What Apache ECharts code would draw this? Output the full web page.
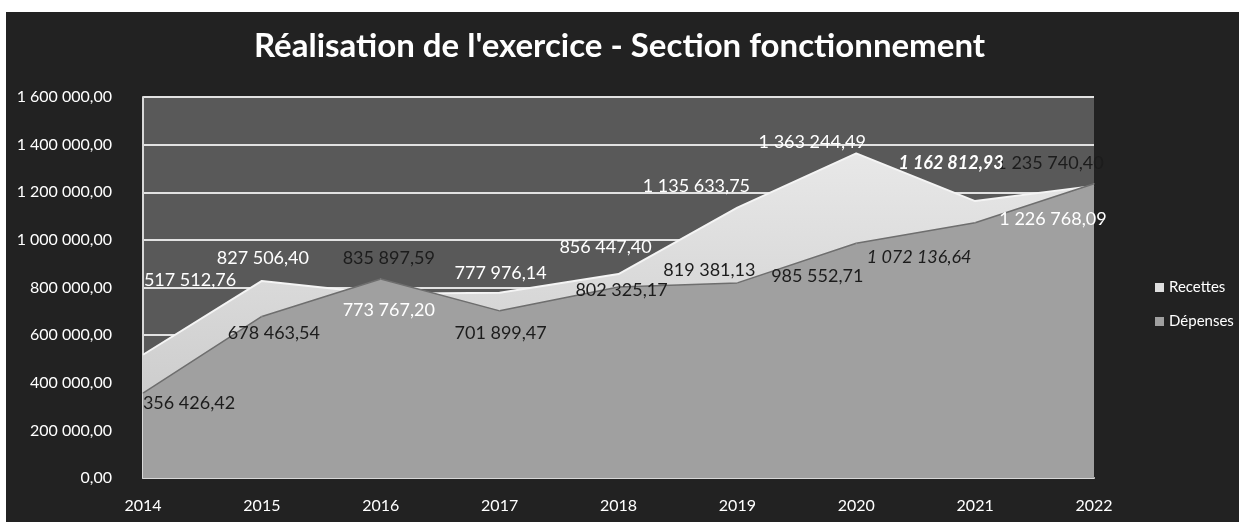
<!DOCTYPE html>
<html>
<head>
<meta charset="utf-8">
<script src="https://cdn.jsdelivr.net/npm/echarts@6/dist/echarts.min.js"></script>
<style>
  html, body { margin: 0; padding: 0; background: #ffffff; }
  #chart { width: 1239px; height: 522px; }
</style>
</head>
<body>
<div id="chart"></div>
<script>
// données
var annees = ['2014', '2015', '2016', '2017', '2018', '2019', '2020', '2021', '2022'];
var recettes = [517512.76, 827506.40, 773767.20, 777976.14, 856447.40, 1135633.75, 1363244.49, 1162812.93, 1226768.09];
var depenses = [356426.42, 678463.54, 835897.59, 701899.47, 802325.17, 819381.13, 985552.71, 1072136.64, 1235740.40];

// décalage des étiquettes (par rapport au point)
var decalRecettes = [[47, -75], [1, -23], [8, 16], [1, -20], [-13, -27], [-41, -21], [-44, -11], [-24, -38], [-41, 33]];
var decalDepenses = [[46, 10], [12, 17], [8, -21], [1, 22], [3, 3], [-28, -13], [-39, 33], [-56, 34], [-44, -21]];

function fmt(v) {
    var s = v.toFixed(2).split('.');
    return s[0].replace(/\B(?=(\d{3})+(?!\d))/g, ' ') + ',' + s[1];
}

function construire(valeurs, decal, couleur) {
    var res = [];
    for (var i = 0; i < valeurs.length; i++) {
        var lab = { offset: decal[i], color: couleur };
        if (annees[i] == '2021') {
            lab.fontStyle = 'italic';
        }
        res.push({ value: valeurs[i], label: lab });
    }
    return res;
}

var dataR = construire(recettes, decalRecettes, '#ffffff');
var dataD = construire(depenses, decalDepenses, '#1c1c1c');
dataR[7].label.fontWeight = 'bold';

var etiquette = {
    show: true,
    position: 'inside',
    fontSize: 18,
    fontFamily: 'Lato',
    formatter: function (p) { return fmt(p.value); }
};

var myChart = echarts.init(document.getElementById('chart'));

var option = {
    backgroundColor: '#ffffff',
    animation: false,
    textStyle: { fontFamily: 'Lato' },
    graphic: [
        { type: 'rect', z: -10, shape: { x: 6, y: 12, width: 1233, height: 510 }, style: { fill: '#222222' } }
    ],
    title: {
        text: "Réalisation de l'exercice - Section fonctionnement",
        left: 'center',
        top: 25,
        textStyle: { color: '#ffffff', fontSize: 33, fontWeight: 'bold', fontFamily: 'Lato' }
    },
    legend: {
        orient: 'vertical',
        left: 1150,
        top: 275,
        itemGap: 19,
        itemWidth: 9,
        itemHeight: 9,
        icon: 'rect',
        textStyle: { color: '#ffffff', fontSize: 15, fontFamily: 'Lato' },
        data: ['Recettes', 'Dépenses']
    },
    grid: {
        left: 143,
        right: 145,
        top: 97,
        bottom: 44,
        show: true,
        backgroundColor: '#595959',
        borderWidth: 0
    },
    xAxis: {
        type: 'category',
        boundaryGap: false,
        data: annees,
        axisTick: { show: false },
        axisLine: { show: true, lineStyle: { color: '#d8d8d8', width: 2 } },
        axisLabel: { color: '#ffffff', fontSize: 16, margin: 20, fontFamily: 'Lato' }
    },
    yAxis: {
        type: 'value',
        min: 0,
        max: 1600000,
        interval: 200000,
        axisLine: { show: true, lineStyle: { color: '#d8d8d8', width: 2 } },
        axisTick: { show: false },
        splitLine: { lineStyle: { color: '#e2e2e2', width: 2 } },
        axisLabel: {
            color: '#ffffff',
            fontSize: 16,
            margin: 31,
            fontFamily: 'Lato',
            formatter: function (v) { return fmt(v); }
        }
    },
    series: [
        {
            name: 'Recettes',
            type: 'line',
            data: recettes,
            symbol: 'none',
            itemStyle: { color: '#dedede' },
            lineStyle: { color: '#f4f4f4', width: 2 },
            areaStyle: {
                opacity: 1,
                color: new echarts.graphic.LinearGradient(0, 0, 0, 1, [
                    { offset: 0, color: '#e8e8e8' },
                    { offset: 1, color: '#c4c4c4' }
                ])
            },
            z: 2
        },
        {
            name: 'Dépenses',
            type: 'line',
            data: dataD,
            symbol: 'circle',
            symbolSize: 1,
            itemStyle: { color: '#a0a0a0' },
            lineStyle: { color: '#6e6e6e', width: 1.5 },
            areaStyle: { opacity: 1, color: '#a0a0a0' },
            label: etiquette,
            z: 3
        },
        {
            // étiquettes des recettes, au-dessus des deux aires
            name: 'Recettes (étiquettes)',
            type: 'line',
            data: dataR,
            symbol: 'circle',
            symbolSize: 1,
            itemStyle: { color: 'rgba(0,0,0,0)' },
            lineStyle: { width: 0, color: 'rgba(0,0,0,0)' },
            label: etiquette,
            silent: true,
            z: 4
        }
    ]
};

myChart.setOption(option);
</script>
</body>
</html>
